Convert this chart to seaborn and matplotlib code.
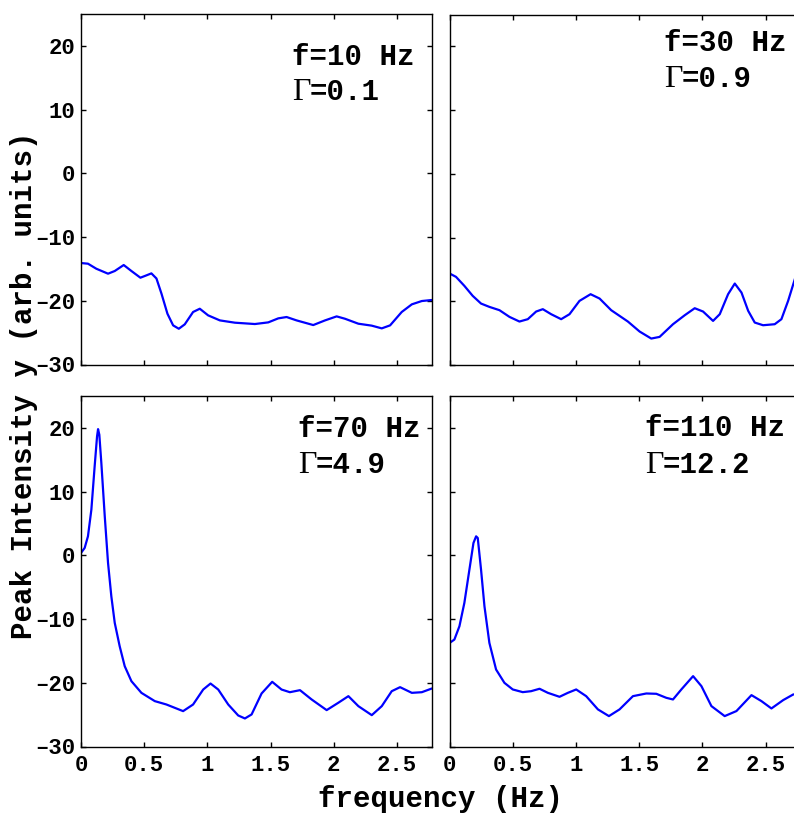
import matplotlib
matplotlib.use("Agg")
import matplotlib.pyplot as plt
import matplotlib.transforms as mtransforms
import pandas as pd
import seaborn as sns

# ---- spectra (frequency in Hz, peak intensity in arb. units) ----
freq_10 = [0.0, 0.055, 0.121, 0.214, 0.267, 0.338, 0.399, 0.47, 0.518, 0.557,
           0.597, 0.637, 0.684, 0.729, 0.774, 0.821, 0.887, 0.94, 1.006, 1.099,
           1.218, 1.376, 1.482, 1.561, 1.627, 1.706, 1.838, 1.931, 2.023, 2.089,
           2.195, 2.3, 2.38, 2.446, 2.538, 2.618, 2.697, 2.776]
amp_10 = [-14.08, -14.18, -14.97, -15.75, -15.33, -14.39, -15.33, -16.38, -16.01, -15.7,
          -16.5, -18.89, -22.03, -23.86, -24.39, -23.7, -21.76, -21.25, -22.29, -23.08,
          -23.44, -23.65, -23.39, -22.76, -22.55, -23.08, -23.81, -23.08, -22.45, -22.82,
          -23.6, -23.9, -24.33, -23.86, -21.76, -20.56, -20.04, -19.88]

freq_30 = [0.0, 0.05, 0.116, 0.182, 0.248, 0.314, 0.394, 0.473, 0.552, 0.618,
           0.684, 0.737, 0.803, 0.882, 0.948, 1.027, 1.115, 1.186, 1.278, 1.41,
           1.503, 1.595, 1.661, 1.767, 1.86, 1.939, 2.005, 2.084, 2.137, 2.203,
           2.256, 2.309, 2.362, 2.414, 2.48, 2.572, 2.625, 2.678, 2.731, 2.78]
amp_30 = [-15.65, -16.17, -17.58, -19.15, -20.36, -20.88, -21.4, -22.45, -23.18, -22.81,
          -21.61, -21.24, -22.03, -22.81, -22.03, -19.94, -18.89, -19.57, -21.4, -23.18,
          -24.75, -25.85, -25.59, -23.6, -22.19, -21.09, -21.61, -23.08, -22.03, -18.89,
          -17.22, -18.63, -21.5, -23.34, -23.76, -23.6, -22.81, -19.94, -16.54, -13.0]

freq_70 = [0.0, 0.029, 0.055, 0.082, 0.108, 0.127, 0.135, 0.145, 0.161, 0.188,
           0.214, 0.24, 0.267, 0.306, 0.346, 0.399, 0.478, 0.584, 0.676, 0.742,
           0.808, 0.887, 0.967, 1.025, 1.086, 1.165, 1.244, 1.297, 1.35, 1.429,
           1.513, 1.587, 1.653, 1.733, 1.825, 1.944, 2.036, 2.116, 2.195, 2.301,
           2.38, 2.459, 2.525, 2.618, 2.697, 2.776]
amp_70 = [0.37, 1.16, 2.98, 7.16, 13.95, 18.66, 19.8, 18.92, 14.48, 6.12,
          -1.2, -6.43, -10.6, -14.26, -17.4, -19.75, -21.58, -22.88, -23.41, -23.93,
          -24.45, -23.41, -21.06, -20.12, -21.06, -23.41, -25.13, -25.6, -24.97, -21.68,
          -19.85, -21.06, -21.48, -21.16, -22.62, -24.29, -23.14, -22.1, -23.67, -25.08,
          -23.67, -21.32, -20.69, -21.58, -21.48, -20.9]

freq_110 = [0.0, 0.037, 0.077, 0.116, 0.156, 0.188, 0.209, 0.222, 0.248, 0.275,
            0.314, 0.367, 0.433, 0.499, 0.578, 0.644, 0.711, 0.777, 0.869, 0.935,
            1.001, 1.08, 1.173, 1.26, 1.344, 1.45, 1.556, 1.635, 1.714, 1.767,
            1.833, 1.926, 1.992, 2.071, 2.176, 2.269, 2.388, 2.467, 2.546, 2.639,
            2.718, 2.78]
amp_110 = [-13.74, -13.22, -11.13, -7.47, -2.24, 1.94, 2.98, 2.72, -2.24, -7.99,
           -13.74, -17.92, -20.01, -21.05, -21.47, -21.32, -20.94, -21.58, -22.2, -21.58,
           -21.05, -22.1, -24.18, -25.23, -24.18, -22.1, -21.68, -21.73, -22.36, -22.62,
           -21.05, -18.96, -20.53, -23.66, -25.23, -24.44, -21.94, -22.88, -24.03, -22.72,
           -21.84, -21.7]

drive_labels = ["f=10 Hz", "f=30 Hz", "f=70 Hz", "f=110 Hz"]
gamma_values = ["=0.1", "=0.9", "=4.9", "=12.2"]

x_ticks = [0, 0.5, 1, 1.5, 2, 2.5]
x_tick_labels = ["0", "0.5", "1", "1.5", "2", "2.5"]
y_ticks = [-30, -20, -10, 0, 10, 20]
y_tick_labels = ["\u201330", "\u201320", "\u201310", "0", "10", "20"]

sns.set_theme(style="ticks", rc={
    "axes.edgecolor": "black",
    "axes.linewidth": 1.0,
    "xtick.color": "black",
    "ytick.color": "black",
    "text.color": "black",
    "axes.labelcolor": "black",
})
plt.rcParams["font.family"] = ["Liberation Mono", "DejaVu Sans"]
plt.rcParams["font.weight"] = "bold"

W, H = 794, 818
fig = plt.figure(figsize=(W / 100, H / 100), dpi=100)


def panel(left, top, width=351.3, height=350.5):
    return fig.add_axes([left / W, 1 - (top + height) / H, width / W, height / H])


axes = [panel(81, 14), panel(449.7, 14.5), panel(81, 396), panel(449.7, 396)]
series = [(freq_10, amp_10), (freq_30, amp_30), (freq_70, amp_70), (freq_110, amp_110)]
text_pos = [(0.600, 0.855, 0.755), (0.610, 0.897, 0.794),
            (0.617, 0.882, 0.780), (0.556, 0.885, 0.780)]

for i, (ax, (fx, fy)) in enumerate(zip(axes, series)):
    df = pd.DataFrame({"frequency": fx, "intensity": fy})
    sns.lineplot(data=df, x="frequency", y="intensity", ax=ax,
                 color="#0000ff", linewidth=1.6, estimator=None)
    for line in ax.get_lines():
        line.set_solid_joinstyle("round")
    ax.set_xlim(0, 2.78)
    ax.set_ylim(-30, 25)
    ax.set_xticks(x_ticks)
    ax.set_yticks(y_ticks)
    ax.set_xlabel("")
    ax.set_ylabel("")
    ax.tick_params(direction="in", length=3.5, width=1.0, top=True, right=True,
                   labelsize=16)
    ax.tick_params(axis="y", pad=4)
    ax.tick_params(axis="x", pad=6)
    if i < 2:
        ax.set_xticklabels([])
    else:
        ax.set_xticklabels(x_tick_labels)
    if i % 2 == 1:
        ax.set_yticklabels([])
    else:
        ax.set_yticklabels(y_tick_labels)
    tx, ty1, ty2 = text_pos[i]
    ax.text(tx, ty1, drive_labels[i], transform=ax.transAxes, fontsize=21,
            fontweight="bold", va="baseline", ha="left")
    # upright serif Gamma followed by the value in the monospace face
    ax.text(tx, ty2, "\u0393", transform=ax.transAxes, fontsize=23,
            family="Liberation Serif", fontweight="normal",
            va="baseline", ha="left")
    shifted = mtransforms.offset_copy(ax.transAxes, fig=fig, x=17.5, y=0,
                                      units="dots")
    ax.text(tx, ty2, gamma_values[i], transform=shifted, fontsize=21,
            fontweight="bold", va="baseline", ha="left")

fig.text(24 / W, 1 - 385.5 / H, "Peak Intensity y (arb. units)", rotation=90,
         ha="center", va="center", fontsize=21, fontweight="bold")
fig.text(440 / W, 1 - 807 / H, "frequency (Hz)", ha="center", va="baseline",
         fontsize=21, fontweight="bold")

fig.savefig("out.png", dpi=100)
